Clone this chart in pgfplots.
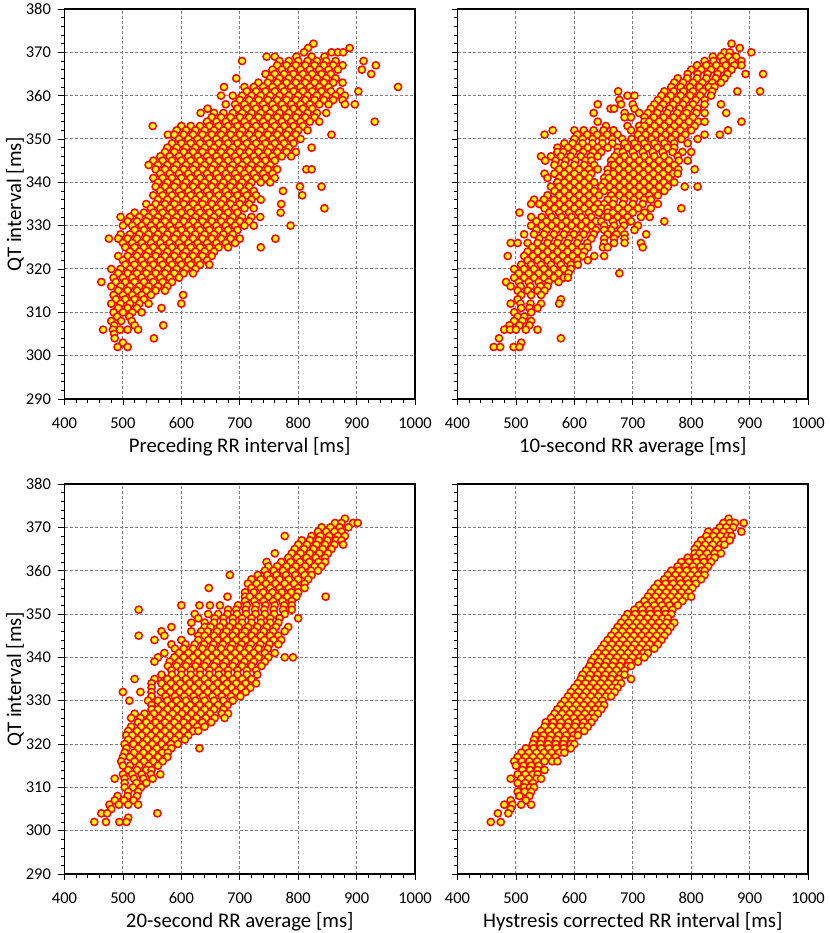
\documentclass[border=0pt]{standalone}
\usepackage{pgfplots}
\pgfplotsset{compat=1.18}
\usepackage{pgfplotstable}
\usepackage{fontspec}
\setmainfont{Carlito}
\definecolor{mkfill}{RGB}{255,255,0}
\definecolor{mkedge}{RGB}{255,0,0}
\definecolor{gridc}{RGB}{128,128,128}

\pgfplotstableread{
x y
826 372
817 371
888 371
810 370
857 370
868 370
877 370
746 369
760 369
797 369
823 369
845 369
704 368
768 368
784 368
800 368
816 368
832 368
848 368
864 368
912 368
764 367
780 367
796 367
812 367
828 367
844 367
860 367
876 367
933 367
756 366
772 366
788 366
804 366
820 366
836 366
852 366
868 366
909 366
744 365
760 365
776 365
792 365
808 365
824 365
840 365
856 365
925 365
694 364
752 364
768 364
784 364
800 364
816 364
832 364
848 364
864 364
732 363
748 363
764 363
780 363
796 363
812 363
828 363
844 363
860 363
876 363
673 362
708 362
724 362
740 362
756 362
772 362
788 362
804 362
820 362
836 362
852 362
971 362
712 361
728 361
744 361
760 361
776 361
792 361
808 361
824 361
840 361
856 361
872 361
903 361
668 360
688 360
704 360
720 360
736 360
752 360
768 360
784 360
800 360
816 360
832 360
848 360
864 360
880 360
700 359
716 359
732 359
748 359
764 359
780 359
796 359
812 359
828 359
844 359
860 359
876 359
676 358
692 358
708 358
724 358
740 358
756 358
772 358
788 358
804 358
820 358
836 358
852 358
880 358
897 358
645 357
696 357
712 357
728 357
744 357
760 357
776 357
792 357
808 357
824 357
633 356
656 356
672 356
688 356
704 356
720 356
736 356
752 356
768 356
784 356
800 356
816 356
832 356
848 356
652 355
668 355
684 355
700 355
716 355
732 355
748 355
764 355
780 355
796 355
812 355
828 355
644 354
660 354
676 354
692 354
708 354
724 354
740 354
756 354
772 354
788 354
804 354
820 354
836 354
931 354
551 353
600 353
616 353
632 353
648 353
664 353
680 353
696 353
712 353
728 353
744 353
760 353
776 353
792 353
808 353
592 352
608 352
624 352
640 352
656 352
672 352
688 352
704 352
720 352
736 352
752 352
768 352
784 352
800 352
816 352
577 351
588 351
604 351
620 351
636 351
652 351
668 351
684 351
700 351
716 351
732 351
748 351
764 351
780 351
796 351
857 351
596 350
612 350
628 350
644 350
660 350
676 350
692 350
708 350
724 350
740 350
756 350
772 350
788 350
804 350
584 349
600 349
616 349
632 349
648 349
664 349
680 349
696 349
712 349
728 349
744 349
760 349
776 349
792 349
576 348
592 348
608 348
624 348
640 348
656 348
672 348
688 348
704 348
720 348
736 348
752 348
768 348
784 348
823 348
572 347
588 347
604 347
620 347
636 347
652 347
668 347
684 347
700 347
716 347
732 347
748 347
764 347
780 347
796 347
564 346
580 346
596 346
612 346
628 346
644 346
660 346
676 346
692 346
708 346
724 346
740 346
756 346
772 346
788 346
552 345
568 345
584 345
600 345
616 345
632 345
648 345
664 345
680 345
696 345
712 345
728 345
744 345
760 345
544 344
560 344
576 344
592 344
608 344
624 344
640 344
656 344
672 344
688 344
704 344
720 344
736 344
752 344
556 343
572 343
588 343
604 343
620 343
636 343
652 343
668 343
684 343
700 343
716 343
732 343
748 343
764 343
814 343
823 343
564 342
580 342
596 342
612 342
628 342
644 342
660 342
676 342
692 342
708 342
724 342
740 342
756 342
552 341
568 341
584 341
600 341
616 341
632 341
648 341
664 341
680 341
696 341
712 341
728 341
744 341
760 341
560 340
576 340
592 340
608 340
624 340
640 340
656 340
672 340
688 340
704 340
720 340
736 340
752 340
556 339
572 339
588 339
604 339
620 339
636 339
652 339
668 339
684 339
700 339
716 339
803 339
840 339
564 338
580 338
596 338
612 338
628 338
644 338
660 338
676 338
692 338
708 338
724 338
774 338
552 337
568 337
584 337
600 337
616 337
632 337
648 337
664 337
680 337
696 337
712 337
728 337
807 337
560 336
576 336
592 336
608 336
624 336
640 336
656 336
672 336
688 336
704 336
720 336
736 336
540 335
556 335
572 335
588 335
604 335
620 335
636 335
652 335
668 335
684 335
700 335
716 335
771 335
548 334
564 334
580 334
596 334
612 334
628 334
644 334
660 334
676 334
692 334
708 334
724 334
845 334
520 333
536 333
552 333
568 333
584 333
600 333
616 333
632 333
648 333
664 333
680 333
696 333
770 333
496 332
512 332
528 332
544 332
560 332
576 332
592 332
608 332
624 332
640 332
656 332
672 332
688 332
704 332
720 332
735 332
508 331
524 331
540 331
556 331
572 331
588 331
604 331
620 331
636 331
652 331
668 331
684 331
700 331
716 331
500 330
516 330
532 330
548 330
564 330
580 330
596 330
612 330
628 330
644 330
660 330
676 330
692 330
708 330
724 330
787 330
520 329
536 329
552 329
568 329
584 329
600 329
616 329
632 329
648 329
664 329
680 329
696 329
496 328
512 328
528 328
544 328
560 328
576 328
592 328
608 328
624 328
640 328
656 328
672 328
688 328
476 327
492 327
508 327
524 327
540 327
556 327
572 327
588 327
604 327
620 327
636 327
652 327
668 327
684 327
700 327
761 327
500 326
516 326
532 326
548 326
564 326
580 326
596 326
612 326
628 326
644 326
660 326
676 326
692 326
504 325
520 325
536 325
552 325
568 325
584 325
600 325
616 325
632 325
648 325
664 325
680 325
736 325
512 324
528 324
544 324
560 324
576 324
592 324
608 324
624 324
640 324
656 324
492 323
508 323
524 323
540 323
556 323
572 323
588 323
604 323
620 323
636 323
652 323
500 322
516 322
532 322
548 322
564 322
580 322
596 322
612 322
628 322
644 322
504 321
520 321
536 321
552 321
568 321
584 321
600 321
616 321
632 321
648 321
480 320
496 320
512 320
528 320
544 320
560 320
576 320
592 320
608 320
624 320
492 319
508 319
524 319
540 319
556 319
572 319
588 319
604 319
620 319
484 318
500 318
516 318
532 318
548 318
564 318
580 318
596 318
463 317
488 317
504 317
520 317
536 317
552 317
568 317
584 317
480 316
496 316
512 316
528 316
544 316
560 316
576 316
492 315
508 315
524 315
540 315
556 315
572 315
484 314
500 314
516 314
532 314
548 314
603 314
488 313
504 313
520 313
536 313
480 312
496 312
512 312
528 312
544 312
600 312
492 311
508 311
524 311
566 311
484 310
500 310
516 310
532 310
490 309
511 309
480 308
497 308
515 308
485 307
520 307
569 307
466 306
483 306
495 306
508 306
526 306
485 305
486 304
553 304
500 303
491 302
508 302
}\dA

\pgfplotstableread{
x y
869 372
883 371
857 370
866 370
903 370
837 369
851 369
864 369
877 369
823 368
838 368
855 368
870 368
886 368
810 367
826 367
843 367
859 367
874 367
886 367
800 366
817 366
834 366
851 366
869 366
794 365
811 365
828 365
845 365
862 365
893 365
923 365
777 364
793 364
810 364
826 364
842 364
857 364
771 363
786 363
803 363
819 363
836 363
851 363
766 362
782 362
798 362
814 362
830 362
840 362
675 361
754 361
770 361
787 361
803 361
820 361
836 361
879 361
918 361
691 360
703 360
749 360
765 360
782 360
798 360
815 360
834 360
677 359
743 359
758 359
775 359
791 359
808 359
823 359
640 358
680 358
700 358
737 358
752 358
769 358
786 358
803 358
823 358
851 358
662 357
668 357
703 357
731 357
746 357
763 357
780 357
796 357
811 357
633 356
686 356
711 356
726 356
742 356
759 356
776 356
792 356
809 356
823 356
860 356
686 355
697 355
720 355
736 355
753 355
770 355
786 355
803 355
640 354
720 354
728 354
745 354
762 354
779 354
796 354
812 354
823 354
886 354
654 353
691 353
711 353
720 353
737 353
754 353
771 353
788 353
806 353
563 352
600 352
616 352
633 352
650 352
667 352
697 352
713 352
730 352
747 352
764 352
781 352
800 352
863 352
549 351
605 351
622 351
639 351
656 351
674 351
709 351
722 351
739 351
756 351
773 351
790 351
823 351
849 351
600 350
614 350
631 350
648 350
665 350
682 350
698 350
715 350
732 350
749 350
766 350
783 350
811 350
583 349
597 349
614 349
631 349
648 349
665 349
686 349
703 349
720 349
737 349
754 349
771 349
794 349
571 348
589 348
606 348
623 348
640 348
657 348
674 348
691 348
708 348
725 348
742 348
759 348
771 348
571 347
581 347
598 347
615 347
632 347
646 347
674 347
683 347
700 347
717 347
734 347
751 347
768 347
785 347
800 347
543 346
560 346
577 346
594 346
611 346
628 346
640 346
669 346
686 346
703 346
720 346
737 346
754 346
777 346
550 345
568 345
585 345
602 345
619 345
629 345
663 345
677 345
694 345
711 345
728 345
745 345
762 345
779 345
794 345
566 344
583 344
600 344
617 344
634 344
663 344
668 344
685 344
702 344
719 344
736 344
753 344
771 344
574 343
591 343
608 343
625 343
640 343
657 343
676 343
693 343
710 343
727 343
744 343
761 343
778 343
806 343
549 342
566 342
583 342
600 342
617 342
629 342
657 342
667 342
684 342
701 342
718 342
735 342
752 342
769 342
777 342
554 341
574 341
591 341
608 341
625 341
651 341
659 341
676 341
693 341
710 341
727 341
744 341
761 341
571 340
583 340
600 340
617 340
634 340
651 340
668 340
685 340
702 340
719 340
736 340
753 340
771 340
560 339
574 339
591 339
608 339
625 339
646 339
660 339
677 339
694 339
711 339
728 339
745 339
760 339
789 339
811 339
566 338
583 338
600 338
617 338
634 338
651 338
668 338
685 338
702 338
719 338
736 338
754 338
554 337
574 337
591 337
608 337
625 337
642 337
663 337
677 337
694 337
711 337
728 337
743 337
531 336
548 336
565 336
582 336
599 336
616 336
633 336
657 336
668 336
685 336
702 336
719 336
731 336
526 335
540 335
557 335
574 335
591 335
608 335
625 335
640 335
651 335
666 335
683 335
700 335
717 335
743 335
549 334
566 334
583 334
600 334
617 334
634 334
646 334
657 334
675 334
692 334
709 334
731 334
783 334
506 333
557 333
574 333
591 333
608 333
625 333
642 333
657 333
666 333
683 333
700 333
720 333
526 332
544 332
561 332
578 332
595 332
612 332
629 332
651 332
657 332
674 332
691 332
714 332
729 332
535 331
552 331
569 331
586 331
603 331
620 331
637 331
646 331
666 331
683 331
697 331
754 331
526 330
544 330
561 330
578 330
595 330
612 330
629 330
651 330
668 330
685 330
709 330
535 329
552 329
569 329
586 329
603 329
620 329
637 329
651 329
663 329
680 329
703 329
514 328
531 328
548 328
565 328
582 328
599 328
616 328
633 328
657 328
672 328
686 328
723 328
540 327
557 327
574 327
591 327
608 327
629 327
651 327
668 327
686 327
491 326
503 326
520 326
537 326
554 326
571 326
588 326
605 326
622 326
651 326
668 326
686 326
714 326
528 325
545 325
562 325
579 325
596 325
613 325
623 325
649 325
657 325
717 325
520 324
537 324
554 324
571 324
588 324
605 324
617 324
486 323
514 323
529 323
546 323
563 323
580 323
597 323
614 323
634 323
651 323
520 322
537 322
554 322
571 322
588 322
605 322
623 322
509 321
526 321
543 321
560 321
577 321
594 321
606 321
497 320
514 320
531 320
548 320
565 320
582 320
594 320
505 319
522 319
539 319
556 319
573 319
590 319
677 319
497 318
514 318
531 318
548 318
565 318
582 318
589 318
483 317
505 317
522 317
539 317
556 317
573 317
491 316
508 316
525 316
542 316
554 316
503 315
520 315
537 315
549 315
509 314
526 314
543 314
503 313
577 313
491 312
508 312
525 312
543 312
574 312
509 311
523 311
537 311
497 310
526 310
503 309
514 309
497 308
511 308
526 308
489 307
506 307
523 307
480 306
490 306
500 306
517 306
537 306
471 304
577 304
509 303
462 302
473 302
496 302
506 302
}\dB

\pgfplotstableread{
x y
880 372
863 371
874 371
894 371
902 371
840 370
855 370
871 370
886 370
834 369
848 369
862 369
874 369
777 368
823 368
838 368
853 368
868 368
880 368
806 367
820 367
835 367
850 367
865 367
874 367
800 366
815 366
831 366
846 366
862 366
877 366
794 365
810 365
826 365
842 365
857 365
760 364
789 364
804 364
820 364
836 364
851 364
783 363
798 363
814 363
830 363
846 363
746 362
771 362
787 362
803 362
819 362
835 362
846 362
749 361
764 361
780 361
796 361
812 361
828 361
840 361
743 360
758 360
774 360
790 360
806 360
822 360
834 360
683 359
731 359
747 359
763 359
779 359
795 359
811 359
823 359
720 358
736 358
752 358
768 358
784 358
800 358
817 358
714 357
729 357
745 357
761 357
777 357
793 357
811 357
647 356
720 356
736 356
752 356
768 356
784 356
800 356
811 356
709 355
724 355
740 355
756 355
772 355
788 355
800 355
679 354
709 354
717 354
733 354
749 354
765 354
781 354
797 354
847 354
709 353
725 353
741 353
757 353
773 353
789 353
600 352
631 352
649 352
666 352
697 352
712 352
728 352
744 352
760 352
776 352
789 352
527 351
680 351
694 351
710 351
726 351
742 351
758 351
774 351
789 351
623 350
646 350
663 350
679 350
695 350
711 350
727 350
743 350
759 350
777 350
629 349
657 349
672 349
688 349
704 349
720 349
736 349
752 349
768 349
800 349
617 348
640 348
656 348
672 348
688 348
704 348
720 348
736 348
752 348
766 348
583 347
640 347
650 347
666 347
682 347
698 347
714 347
730 347
746 347
762 347
783 347
566 346
617 346
634 346
645 346
661 346
677 346
693 346
709 346
725 346
741 346
757 346
777 346
527 345
571 345
629 345
640 345
656 345
672 345
688 345
704 345
720 345
736 345
752 345
766 345
554 344
600 344
629 344
646 344
662 344
678 344
694 344
710 344
726 344
742 344
758 344
771 344
583 343
607 343
623 343
639 343
655 343
671 343
687 343
703 343
719 343
735 343
751 343
766 343
589 342
604 342
620 342
636 342
652 342
668 342
684 342
700 342
716 342
732 342
748 342
571 341
596 341
612 341
628 341
644 341
660 341
676 341
692 341
708 341
724 341
743 341
760 341
560 340
588 340
604 340
620 340
636 340
652 340
668 340
684 340
700 340
716 340
732 340
749 340
777 340
791 340
554 339
580 339
596 339
612 339
628 339
644 339
660 339
676 339
692 339
708 339
724 339
743 339
577 338
592 338
608 338
624 338
640 338
656 338
672 338
688 338
704 338
720 338
737 338
583 337
600 337
616 337
632 337
648 337
664 337
680 337
696 337
712 337
728 337
566 336
584 336
600 336
616 336
632 336
648 336
664 336
680 336
696 336
712 336
730 336
520 335
554 335
576 335
592 335
608 335
624 335
640 335
656 335
672 335
688 335
704 335
720 335
549 334
566 334
582 334
598 334
614 334
630 334
646 334
662 334
678 334
694 334
710 334
728 334
549 333
574 333
590 333
606 333
622 333
638 333
654 333
670 333
686 333
702 333
718 333
500 332
530 332
549 332
565 332
581 332
597 332
613 332
629 332
645 332
661 332
677 332
693 332
710 332
549 331
573 331
589 331
605 331
621 331
637 331
653 331
669 331
685 331
701 331
511 330
543 330
560 330
576 330
592 330
608 330
624 330
640 330
656 330
672 330
688 330
549 329
567 329
583 329
599 329
615 329
631 329
647 329
663 329
679 329
549 328
560 328
576 328
592 328
608 328
624 328
640 328
656 328
672 328
520 327
537 327
553 327
569 327
585 327
601 327
617 327
633 327
649 327
669 327
680 327
514 326
530 326
546 326
562 326
578 326
594 326
610 326
626 326
642 326
657 326
674 326
526 325
540 325
556 325
572 325
588 325
604 325
620 325
636 325
651 325
514 324
531 324
547 324
563 324
579 324
595 324
611 324
627 324
640 324
509 323
524 323
540 323
556 323
572 323
588 323
604 323
620 323
629 323
506 322
516 322
532 322
548 322
564 322
580 322
596 322
612 322
509 321
525 321
541 321
557 321
573 321
589 321
606 321
503 320
518 320
534 320
550 320
566 320
582 320
594 320
506 319
526 319
542 319
558 319
574 319
583 319
631 319
503 318
519 318
535 318
551 318
567 318
577 318
500 317
512 317
528 317
544 317
560 317
576 317
497 316
520 316
536 316
552 316
568 316
500 315
512 315
528 315
544 315
560 315
509 314
524 314
540 314
549 314
500 313
516 313
532 313
548 313
564 313
486 312
503 312
519 312
535 312
551 312
503 311
523 311
540 311
503 310
517 310
531 310
509 309
526 309
491 308
508 308
524 308
486 307
502 307
518 307
477 306
493 306
509 306
526 306
480 305
463 304
473 304
559 304
509 303
451 302
471 302
494 302
506 302
}\dC

\pgfplotstableread{
x y
864 372
855 371
866 371
875 371
890 371
849 370
860 370
872 370
829 369
842 369
855 369
866 369
886 369
826 368
838 368
850 368
862 368
869 368
817 367
830 367
843 367
856 367
866 367
811 366
824 366
837 366
850 366
857 366
806 365
819 365
832 365
846 365
806 364
814 364
827 364
840 364
851 364
794 363
807 363
820 363
833 363
840 363
783 362
796 362
809 362
822 362
834 362
777 361
790 361
803 361
816 361
829 361
766 360
779 360
792 360
805 360
818 360
823 360
760 359
773 359
786 359
799 359
812 359
823 359
754 358
767 358
780 358
793 358
806 358
817 358
743 357
756 357
769 357
782 357
795 357
808 357
737 356
750 356
763 356
776 356
789 356
802 356
731 355
744 355
757 355
770 355
783 355
796 355
726 354
739 354
752 354
765 354
778 354
791 354
800 354
720 353
733 353
746 353
759 353
772 353
785 353
711 352
724 352
737 352
750 352
763 352
777 352
703 351
716 351
729 351
742 351
755 351
768 351
691 350
704 350
717 350
730 350
743 350
756 350
766 350
686 349
699 349
712 349
725 349
738 349
751 349
760 349
680 348
693 348
706 348
719 348
732 348
745 348
758 348
771 348
674 347
687 347
700 347
713 347
726 347
739 347
752 347
765 347
669 346
682 346
695 346
708 346
721 346
734 346
747 346
760 346
663 345
676 345
689 345
702 345
715 345
728 345
741 345
754 345
657 344
670 344
683 344
696 344
709 344
722 344
735 344
749 344
651 343
664 343
677 343
690 343
703 343
716 343
729 343
743 343
646 342
659 342
672 342
685 342
698 342
711 342
724 342
737 342
640 341
653 341
666 341
679 341
692 341
705 341
718 341
726 341
634 340
647 340
660 340
673 340
686 340
699 340
712 340
720 340
629 339
642 339
655 339
668 339
681 339
694 339
709 339
626 338
639 338
652 338
665 338
678 338
691 338
697 338
620 337
633 337
646 337
659 337
672 337
686 337
614 336
627 336
640 336
653 336
666 336
679 336
686 336
611 335
624 335
637 335
650 335
663 335
676 335
697 335
606 334
619 334
632 334
645 334
658 334
671 334
680 334
600 333
613 333
626 333
639 333
652 333
665 333
674 333
594 332
607 332
620 332
633 332
646 332
659 332
669 332
589 331
602 331
615 331
628 331
641 331
654 331
663 331
583 330
596 330
609 330
622 330
635 330
648 330
577 329
590 329
603 329
616 329
629 329
642 329
651 329
571 328
584 328
597 328
610 328
623 328
636 328
646 328
566 327
579 327
592 327
605 327
618 327
631 327
640 327
560 326
573 326
586 326
599 326
612 326
625 326
634 326
551 325
564 325
577 325
590 325
603 325
616 325
629 325
549 324
562 324
575 324
588 324
601 324
614 324
623 324
543 323
556 323
569 323
582 323
595 323
608 323
617 323
534 322
547 322
560 322
573 322
586 322
599 322
606 322
531 321
544 321
557 321
570 321
583 321
596 321
529 320
542 320
555 320
568 320
581 320
594 320
600 320
517 319
530 319
543 319
556 319
569 319
582 319
594 319
509 318
522 318
535 318
548 318
561 318
574 318
583 318
503 317
516 317
529 317
542 317
555 317
568 317
497 316
510 316
523 316
536 316
549 316
562 316
571 316
500 315
513 315
526 315
539 315
511 314
524 314
537 314
549 314
503 313
516 313
529 313
537 313
491 312
509 312
522 312
535 312
543 312
503 311
516 311
529 311
514 310
524 310
531 310
503 309
515 309
526 309
506 308
523 308
491 307
517 307
480 306
494 306
509 306
526 306
491 305
469 304
487 304
457 302
474 302
}\dD

\pgfplotsset{
  qtaxis/.style={
    width=350.5pt, height=390pt, scale only axis,
    xmin=400, xmax=1000, ymin=290, ymax=380,
    xtick={400,500,...,1000}, ytick={290,300,...,380},
    minor x tick num=4, minor y tick num=4,
    tick pos=left, tick align=outside,
    major tick length=6pt, minor tick length=4pt,
    tick style={black, line width=0.8pt},
    grid=major,
    major grid style={gridc, line width=1pt, dash pattern=on 3pt off 2pt},
    axis line style={black, line width=1.3pt},
    ticklabel style={font=\fontsize{16.5}{19}\selectfont},
    label style={font=\fontsize{20.8}{24}\selectfont},
    xticklabel style={yshift=-9pt},
    yticklabel style={xshift=-4pt},
    /pgf/number format/assume math mode=true,
    /pgf/number format/1000 sep={},
    xlabel style={yshift=-2pt},
    ylabel shift=-5pt,
  },
  qtmarks/.style={only marks, mark=*, mark size=3.6pt,
    mark options={fill=mkfill, draw=mkedge, line width=1.5pt}},
}

\begin{document}
\begin{tikzpicture}
\path[use as bounding box] (0,0) rectangle (829pt,933pt);
\begin{axis}[qtaxis, at={(64.5pt,534pt)}, anchor=south west,
  xlabel={Preceding RR interval [ms]}, ylabel={QT interval [ms]}]
\addplot[qtmarks] table[x=x,y=y] {\dA};
\end{axis}
\begin{axis}[qtaxis, at={(457.5pt,534pt)}, anchor=south west,
  xlabel={10-second RR average [ms]}, yticklabel=\empty]
\addplot[qtmarks] table[x=x,y=y] {\dB};
\end{axis}
\begin{axis}[qtaxis, at={(64.5pt,59pt)}, anchor=south west,
  xlabel={20-second RR average [ms]}, ylabel={QT interval [ms]}]
\addplot[qtmarks] table[x=x,y=y] {\dC};
\end{axis}
\begin{axis}[qtaxis, at={(457.5pt,59pt)}, anchor=south west,
  xlabel={Hystresis corrected RR interval [ms]}, yticklabel=\empty]
\addplot[qtmarks] table[x=x,y=y] {\dD};
\end{axis}
\end{tikzpicture}
\end{document}
